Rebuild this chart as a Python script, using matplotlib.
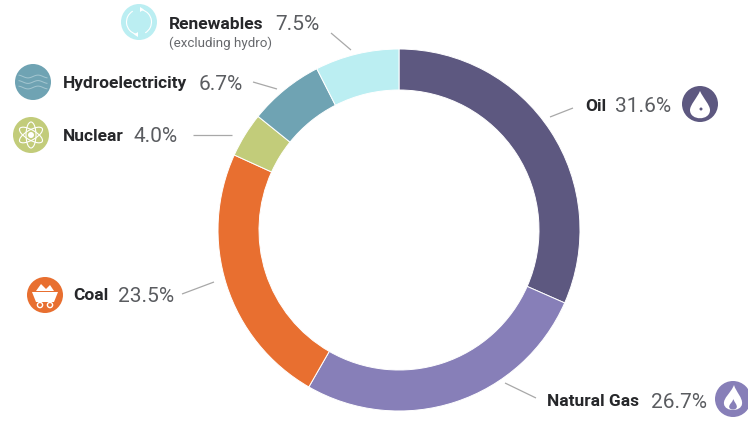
import numpy as np
import matplotlib
matplotlib.use("Agg")
import matplotlib.pyplot as plt
from matplotlib.patches import Circle, Ellipse, Arc, PathPatch, Polygon
from matplotlib.path import Path

categories = ["Oil", "Natural Gas", "Coal", "Nuclear", "Hydroelectricity", "Renewables"]
shares = [31.6, 26.7, 23.5, 4.0, 6.7, 7.5]
colors = ["#5d5880", "#877fb8", "#e86f30", "#c2cc7a", "#6fa3b3", "#bbeef2"]
label_text = ["31.6%", "26.7%", "23.5%", "4.0%", "6.7%", "7.5%"]

W, H = 748, 422
plt.rcParams["font.family"] = ["Roboto", "DejaVu Sans"]
fig = plt.figure(figsize=(W / 100, H / 100), dpi=100, facecolor="white")
ax = fig.add_axes([0, 0, 1, 1])

def Y(v):
    return H - v

ax.pie(shares, colors=colors, startangle=90, counterclock=False, center=(399, Y(230)),
       radius=181, frame=True, wedgeprops=dict(width=41, edgecolor="white", linewidth=0.7))
ax.set_xlim(0, W)
ax.set_ylim(0, H)
ax.set_aspect("equal")
ax.axis("off")

# label placement: name x, value x, vertical centre, leader start/end, icon centre
layout = {
    "Oil": (585, 615, 105, (550, 117), (573, 108), (700, 104)),
    "Natural Gas": (547, 651, 400, (505, 383), (536, 398), (733, 399)),
    "Coal": (73, 118, 294, (182, 294), (214, 282), (45, 295)),
    "Nuclear": (63, 134, 135, (193, 135), (232, 135), (31, 135)),
    "Hydroelectricity": (63, 199, 82, (253, 82), (277, 89), (33, 82)),
    "Renewables": (169, 275, 23, (331, 33), (351, 50), (139, 22)),
}

for name, val, col in zip(categories, label_text, colors):
    nx, vx, ym, p0, p1, ic = layout[name]
    ax.text(nx, Y(ym), name, fontsize=12.5, fontweight="bold", color="#26272a",
            ha="left", va="center_baseline")
    ax.text(vx, Y(ym), val, fontsize=15.0, fontweight="normal", color="#5a5c60",
            ha="left", va="center_baseline")
    ax.plot([p0[0], p1[0]], [Y(p0[1]), Y(p1[1])], color="#a8a8a8", lw=0.9, solid_capstyle="butt")
    ax.add_patch(Circle((ic[0], Y(ic[1])), 18, facecolor=col, edgecolor="none", zorder=3))

ax.text(169, Y(42), "(excluding hydro)", fontsize=9.6, fontweight="normal", color="#66686c",
        ha="left", va="center_baseline")

wkw = dict(facecolor="white", edgecolor="none", zorder=4)

# Renewables icon: circular arrows
cx, cy = layout["Renewables"][5][0], Y(layout["Renewables"][5][1])
ax.add_patch(Arc((cx, cy), 25, 25, theta1=-60, theta2=75, color="white", lw=0.8, zorder=4))
ax.add_patch(Arc((cx, cy), 25, 25, theta1=120, theta2=255, color="white", lw=0.8, zorder=4))
ax.add_patch(Polygon([(cx + 1, cy + 15), (cx + 1, cy + 10), (cx + 5, cy + 12.5)], **wkw))
ax.add_patch(Polygon([(cx - 1, cy - 15), (cx - 1, cy - 10), (cx - 5, cy - 12.5)], **wkw))

# Hydro icon: waves
cx, cy = layout["Hydroelectricity"][5][0], Y(layout["Hydroelectricity"][5][1])
xs = np.linspace(-14, 14, 40)
for dy in (5.5, 0, -5.5):
    ax.plot(cx + xs, cy + dy + 1.4 * np.sin(xs / 3.2), color="#a4c6d0", lw=0.7, zorder=4)

# Nuclear icon: atom
cx, cy = layout["Nuclear"][5][0], Y(layout["Nuclear"][5][1])
for ang in (30, 90, 150):
    ax.add_patch(Ellipse((cx, cy), 26, 10, angle=ang, facecolor="none",
                         edgecolor="white", lw=0.8, zorder=4))
ax.add_patch(Circle((cx, cy), 3, **wkw))

# Coal icon: mine cart
cx, cy = layout["Coal"][5][0], Y(layout["Coal"][5][1])
ax.add_patch(Polygon([(cx - 13, cy + 3), (cx + 13, cy + 3), (cx + 9, cy - 7), (cx - 9, cy - 7)], **wkw))
ax.add_patch(Polygon([(cx - 9, cy + 4), (cx - 4, cy + 11), (cx + 1, cy + 6), (cx + 5, cy + 10), (cx + 9, cy + 4)], **wkw))
for dx in (-5, 5):
    ax.add_patch(Circle((cx + dx, cy - 10), 2.6, facecolor="#e86f30", edgecolor="white", lw=1, zorder=4))

# Oil icon: drop
cx, cy = layout["Oil"][5][0], Y(layout["Oil"][5][1])
drop = Path([(cx, cy + 13), (cx + 3, cy + 6), (cx + 10, cy - 1), (cx + 10, cy - 6),
             (cx + 10, cy - 17), (cx - 10, cy - 17), (cx - 10, cy - 6), (cx - 10, cy - 1),
             (cx - 3, cy + 6), (cx, cy + 13)],
            [Path.MOVETO] + [Path.CURVE4] * 9)
ax.add_patch(PathPatch(drop, **wkw))
ax.add_patch(Circle((cx + 1, cy - 5), 1.5, facecolor="#5d5880", edgecolor="none", zorder=5))

# Natural gas icon: flame
cx, cy = layout["Natural Gas"][5][0], Y(layout["Natural Gas"][5][1])
def flame(s, dy):
    return Path([(cx + 1 * s, cy + 14 * s + dy), (cx + 3 * s, cy + 7 * s + dy), (cx + 10 * s, cy + 1 * s + dy), (cx + 9 * s, cy - 5 * s + dy),
                 (cx + 8 * s, cy - 13 * s + dy), (cx - 8 * s, cy - 13 * s + dy), (cx - 9 * s, cy - 5 * s + dy),
                 (cx - 10 * s, cy + 1 * s + dy), (cx - 2 * s, cy + 6 * s + dy), (cx + 1 * s, cy + 14 * s + dy)],
                [Path.MOVETO] + [Path.CURVE4] * 9)
ax.add_patch(PathPatch(flame(1, 0), **wkw))
ax.add_patch(PathPatch(flame(0.42, -6), facecolor="#877fb8", edgecolor="none", zorder=5))

fig.savefig("out.png", dpi=100, facecolor="white")
